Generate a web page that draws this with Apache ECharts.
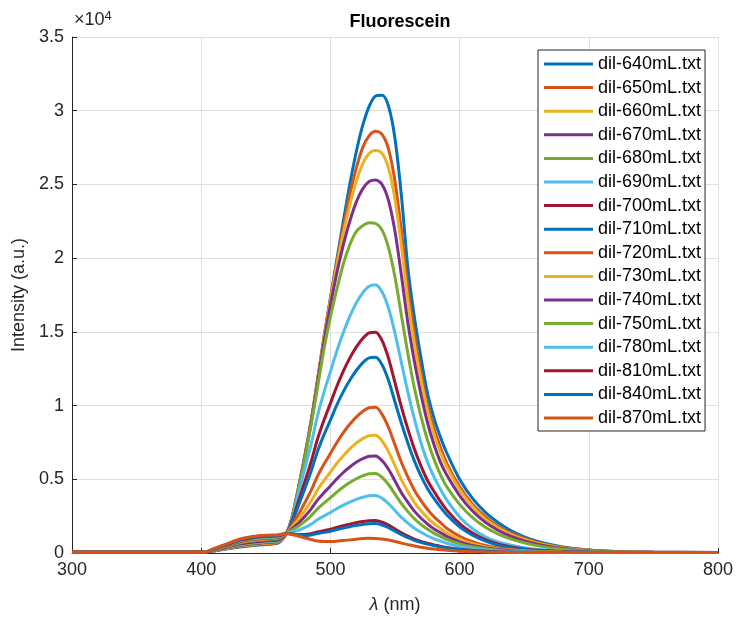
<!DOCTYPE html>
<html>
<head>
<meta charset="utf-8">
<script src="https://cdn.jsdelivr.net/npm/echarts@6/dist/echarts.min.js"></script>
<style>
  html, body { margin: 0; padding: 0; background: #fff; }
  #chart { width: 737px; height: 619px; }
</style>
</head>
<body>
<div id="chart"></div>
<script>
// wavelengths (nm)
const wavelength = [300,350,390,400,405,410,420,430,440,450,460,466,470,475,480,485,490,495,500,505,510,515,520,525,530,535,540,545,550,555,560,565,570,575,580,585,590,600,610,620,630,640,650,660,680,700,720,750,800];

// intensity (a.u.) per dilution
const dil640 = [60,60,60,70,90,130,280,400,500,580,700,1340,2300,4300,6500,8900,11700,14600,17300,19900,22500,25000,27200,29000,30300,31000,31050,30300,28100,24200,19300,16000,13300,10900,9200,7900,6800,5000,3700,2750,2050,1500,1100,800,400,200,110,60,40];
const dil650 = [60,60,60,70,91,141,303,437,541,621,736,1340,2300,4300,6500,8900,11700,14600,17200,19700,22100,24300,26100,27500,28300,28600,28400,27400,25200,21800,17900,14900,12300,10100,8500,7200,6100,4500,3300,2450,1800,1350,1000,720,370,180,100,55,40];
const dil660 = [60,60,60,70,93,153,325,473,583,663,772,1340,2300,4250,6450,8850,11600,14500,17100,19500,21700,23600,25200,26400,27100,27300,27100,26100,24000,20800,17100,14200,11800,9700,8100,6850,5850,4300,3150,2300,1700,1250,920,670,340,170,90,50,35];
const dil670 = [60,60,60,70,94,164,348,510,624,704,808,1340,2300,4200,6400,8800,11500,14300,16800,19000,20900,22500,23800,24700,25200,25300,25000,23900,21800,18800,15600,13000,10800,8900,7400,6200,5300,3900,2850,2080,1530,1120,820,600,300,150,80,45,30];
const dil680 = [60,60,60,70,95,175,371,547,665,745,844,1340,2300,4150,6300,8650,11200,13800,16000,17900,19600,20900,21800,22200,22400,22350,21900,20700,18700,16100,13500,11200,9300,7700,6400,5350,4500,3300,2400,1750,1280,940,690,500,250,130,70,40,30];
const dil690 = [60,60,60,70,97,187,393,583,707,787,880,1340,2200,3950,5650,7350,9300,10900,12300,13700,14950,16050,16950,17650,18100,18200,17700,16600,14900,12900,10900,9100,7500,6200,5200,4350,3600,2450,1650,1100,750,520,360,250,130,70,40,30,30];
const dil700 = [60,60,60,70,98,198,416,620,748,828,916,1340,2100,3430,4780,6160,7720,9000,10150,11310,12340,13220,13960,14550,14925,14970,14400,13200,11550,9900,8400,7050,5925,4950,4200,3525,2925,1995,1350,900,600,405,270,180,100,60,40,30,30];
const dil710 = [60,60,60,70,99,209,439,657,789,869,952,1340,2000,3140,4310,5520,6885,8010,9015,10040,10945,11720,12380,12900,13230,13270,12770,11700,10240,8780,7450,6250,5250,4390,3720,3125,2590,1770,1200,800,530,360,240,160,90,50,35,30,30];
const dil720 = [60,60,60,70,101,221,461,693,831,911,988,1340,1850,2560,3370,4230,5210,6020,6750,7500,8160,8730,9220,9600,9850,9880,9405,8514,7326,6138,5148,4257,3564,2970,2475,2079,1683,1139,772,515,347,238,158,109,60,40,30,30,30];
const dil730 = [60,60,60,70,102,232,484,730,872,952,1024,1340,1735,2235,2850,3505,4275,4905,5480,6080,6600,7060,7450,7760,7960,7985,7600,6880,5920,4960,4160,3440,2880,2400,2000,1680,1360,920,624,416,280,192,128,88,50,35,30,30,30];
const dil740 = [60,60,60,70,103,243,507,767,913,993,1060,1340,1630,2000,2460,2975,3585,4090,4550,5030,5460,5830,6150,6400,6567,6587,6270,5676,4884,4092,3432,2838,2376,1980,1650,1386,1122,759,515,343,231,158,106,73,45,35,30,30,30];
const dil750 = [60,60,60,70,105,255,529,803,955,1035,1096,1340,1540,1790,2130,2520,2995,3385,3750,4130,4475,4775,5035,5238,5373,5390,5130,4644,3996,3348,2808,2322,1944,1620,1350,1134,918,621,421,281,189,130,86,60,40,30,30,30,30];
const dil780 = [60,60,60,70,106,266,552,840,996,1076,1132,1340,1430,1536,1718,1949,2256,2509,2748,3011,3247,3456,3639,3783,3880,3892,3705,3354,2886,2418,2028,1677,1404,1170,975,819,663,449,304,203,137,94,62,43,30,30,30,30,30];
const dil810 = [60,60,60,70,107,277,575,877,1037,1117,1168,1340,1303,1246,1250,1304,1419,1515,1614,1739,1855,1961,2059,2134,2189,2196,2090,1892,1628,1364,1144,946,792,660,550,462,374,253,172,114,77,53,35,30,30,30,30,30,30];
const dil840 = [60,60,60,70,109,289,597,913,1079,1159,1204,1340,1288,1212,1194,1228,1320,1398,1481,1590,1691,1786,1873,1940,1990,1996,1900,1720,1480,1240,1040,860,720,600,500,420,340,230,156,104,70,48,32,30,30,30,30,30,30];
const dil870 = [60,60,60,70,110,300,620,950,1120,1200,1240,1320,1250,1150,1030,920,810,775,780,800,840,890,940,980,1000,990,950,880,780,670,570,470,390,320,265,220,180,125,90,65,50,40,35,30,30,30,30,30,30];

const seriesNames = ['dil-640mL.txt','dil-650mL.txt','dil-660mL.txt','dil-670mL.txt','dil-680mL.txt','dil-690mL.txt','dil-700mL.txt','dil-710mL.txt','dil-720mL.txt','dil-730mL.txt','dil-740mL.txt','dil-750mL.txt','dil-780mL.txt','dil-810mL.txt','dil-840mL.txt','dil-870mL.txt'];
const seriesData = [dil640,dil650,dil660,dil670,dil680,dil690,dil700,dil710,dil720,dil730,dil740,dil750,dil780,dil810,dil840,dil870];

// matlab default line colours
const colors = ['#0072BD','#D95319','#EDB120','#7E2F8E','#77AC30','#4DBEEE','#A2142F'];
const font = 'Liberation Sans, Arial, Helvetica, sans-serif';
const axisCol = '#262626';

const chart = echarts.init(document.getElementById('chart'));

chart.setOption({
  animation: false,
  backgroundColor: '#fff',
  title: {
    text: 'Fluorescein',
    left: 395,
    textAlign: 'center',
    top: 8,
    textStyle: { fontFamily: font, fontSize: 18, fontWeight: 'bold', color: '#000' }
  },
  grid: { left: 72, right: 19, top: 37, bottom: 66 },
  legend: {
    orient: 'vertical',
    left: 538,
    top: 50,
    padding: [4, 4, 3, 6],
    itemGap: 3.6,
    itemWidth: 49,
    itemHeight: 3,
    icon: 'rect',
    borderColor: axisCol,
    borderWidth: 1,
    backgroundColor: '#fff',
    textStyle: { fontFamily: font, fontSize: 18, color: '#000', lineHeight: 20 },
    data: seriesNames
  },
  xAxis: {
    type: 'value',
    min: 300,
    max: 800,
    interval: 100,
    axisLine: { show: true, lineStyle: { color: axisCol, width: 1 } },
    axisTick: { show: true, inside: true, length: 5, lineStyle: { color: axisCol } },
    axisLabel: { fontFamily: font, fontSize: 18, color: axisCol, margin: 8 },
    splitLine: { show: true, lineStyle: { color: '#dfdfdf', width: 1 } }
  },
  yAxis: {
    type: 'value',
    min: 0,
    max: 35000,
    interval: 5000,
    name: 'Intensity (a.u.)',
    nameLocation: 'middle',
    nameGap: 44,
    nameTextStyle: { fontFamily: font, fontSize: 18, color: axisCol },
    axisLine: { show: true, lineStyle: { color: axisCol, width: 1 } },
    axisTick: { show: true, inside: true, length: 5, lineStyle: { color: axisCol } },
    axisLabel: {
      fontFamily: font, fontSize: 18, color: axisCol, margin: 8,
      formatter: v => String(v / 10000)
    },
    splitLine: { show: true, lineStyle: { color: '#dfdfdf', width: 1 } }
  },
  graphic: [
    {
      type: 'text',
      left: 74,
      top: 10,
      style: {
        text: '{a|×10}{b|4}',
        rich: {
          a: { fontFamily: font, fontSize: 18, fill: axisCol },
          b: { fontFamily: font, fontSize: 13, fill: axisCol, verticalAlign: 'top', padding: [0, 0, 8, 0] }
        }
      }
    },
    {
      type: 'text',
      x: 395,
      y: 605,
      style: {
        text: '{i|λ} (nm)',
        align: 'center',
        verticalAlign: 'middle',
        rich: {
          i: { fontFamily: font, fontSize: 18, fontStyle: 'italic', fill: axisCol }
        },
        fontFamily: font,
        fontSize: 18,
        fill: axisCol
      }
    }
  ],
  series: seriesData.map((vals, i) => ({
    name: seriesNames[i],
    type: 'line',
    data: wavelength.map((w, k) => [w, vals[k]]),
    showSymbol: false,
    smooth: 0.3,
    color: colors[i % colors.length],
    lineStyle: { width: 3 }
  }))
});
</script>
</body>
</html>
